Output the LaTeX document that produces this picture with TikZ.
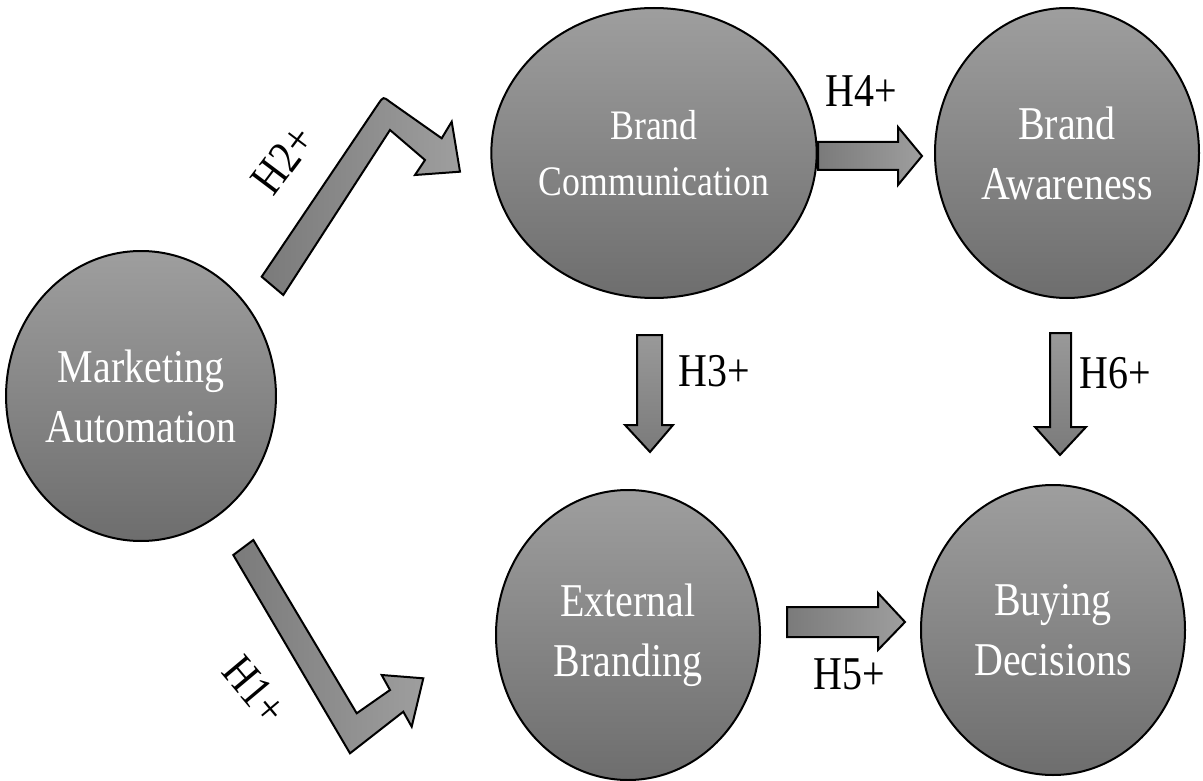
\documentclass[tikz,border=0pt]{standalone}
\usepackage{fontspec}
\setmainfont{Liberation Serif}[FakeStretch=0.85]
\usetikzlibrary{shapes.geometric}
\tikzset{
  bubble/.style={ellipse, draw=black, line width=2pt, minimum width=264pt, minimum height=290pt,
    inner sep=0pt, top color=black!38, bottom color=black!57, text=white, align=center,
    font=\fontsize{47}{60}\selectfont},
  smallbubble/.style={bubble, font=\fontsize{42}{56}\selectfont},
  blockarrow/.style={draw=black, line width=2pt, line join=miter},
  harrow/.style={blockarrow, left color=black!52, right color=black!38},
  varrow/.style={blockarrow, top color=black!40, bottom color=black!52},
  hlabel/.style={font=\fontsize{47}{56}\selectfont, text=black, inner sep=0pt}
}
\begin{document}
\begin{tikzpicture}[x=1pt,y=-1pt]
\useasboundingbox (0,0) rectangle (1203,781);
\fill[white] (0,0) rectangle (1203,781);

% nodes
\node[bubble] (ma) at (141,396) {Marketing\\Automation};
\node[smallbubble] (bc) at (654,153) {Brand\\Communication};
\node[bubble] (ba) at (1067,153) {Brand\\Awareness};
\node[bubble] (eb) at (628,635) {External\\Branding};
\node[bubble] (bd) at (1053,630) {Buying\\Decisions};

% H2 bent arrow (Marketing Automation -> Brand Communication)
\coordinate (h2a) at (261.7,276.7);
\coordinate (h2o1) at (378.5,103.6);
\coordinate (h2o) at (383.3,96.7);
\coordinate (h2o2) at (389.6,101.6);
\coordinate (h2u) at (441.7,138.3);
\coordinate (h2b1) at (451.7,121.7);
\coordinate (h2t) at (460,171.7);
\coordinate (h2b2) at (415,175);
\coordinate (h2l) at (425,160);
\coordinate (h2i) at (390,130);
\coordinate (h2b) at (283.3,295);
\draw[blockarrow, shading angle=135, left color=black!52, right color=black!38]
  (h2a) -- (h2o1) .. controls (h2o) .. (h2o2) -- (h2u) -- (h2b1) -- (h2t) -- (h2b2) -- (h2l) -- (h2i) -- (h2b) -- cycle;

% H1 bent arrow (Marketing Automation -> External Branding)
\coordinate (h1a) at (233.3,555);
\coordinate (h1c) at (350,753.3);
\coordinate (h1l) at (403.3,711.7);
\coordinate (h1b2) at (411.7,726.7);
\coordinate (h1t) at (423.3,678.3);
\coordinate (h1b1) at (381.7,675);
\coordinate (h1u) at (390,690);
\coordinate (h1i) at (356.7,713.3);
\coordinate (h1b) at (253.3,540);
\draw[harrow]
  (h1a) -- (h1c) -- (h1l) -- (h1b2) -- (h1t) -- (h1b1) -- (h1u) -- (h1i) -- (h1b) -- cycle;

% H4 (Brand Communication -> Brand Awareness)
\draw[harrow] (818,142) -- (898,142) -- (898,127) -- (922,156) -- (898,185) -- (898,170) -- (818,170) -- cycle;
% H3 (Brand Communication -> External Branding)
\draw[varrow] (637,335) -- (662,335) -- (662,425) -- (673,425) -- (650,452) -- (625,425) -- (637,425) -- cycle;
% H6 (Brand Awareness -> Buying Decisions)
\draw[varrow] (1050,333) -- (1071,333) -- (1071,427) -- (1086,427) -- (1060,455) -- (1035,427) -- (1050,427) -- cycle;
% H5 (External Branding -> Buying Decisions)
\draw[harrow] (787,607) -- (878,607) -- (878,593) -- (905,622) -- (878,650) -- (878,637) -- (787,637) -- cycle;

% labels
\node[hlabel, rotate=53] (l2) at (283,160) {H2+};
\node[hlabel, rotate=-50] (l1) at (255,690) {H1+};
\node[hlabel] (l4) at (861,91) {H4+};
\node[hlabel] (l3) at (714,371) {H3+};
\node[hlabel] (l6) at (1115,373) {H6+};
\node[hlabel] (l5) at (849,674) {H5+};
\end{tikzpicture}
\end{document}
